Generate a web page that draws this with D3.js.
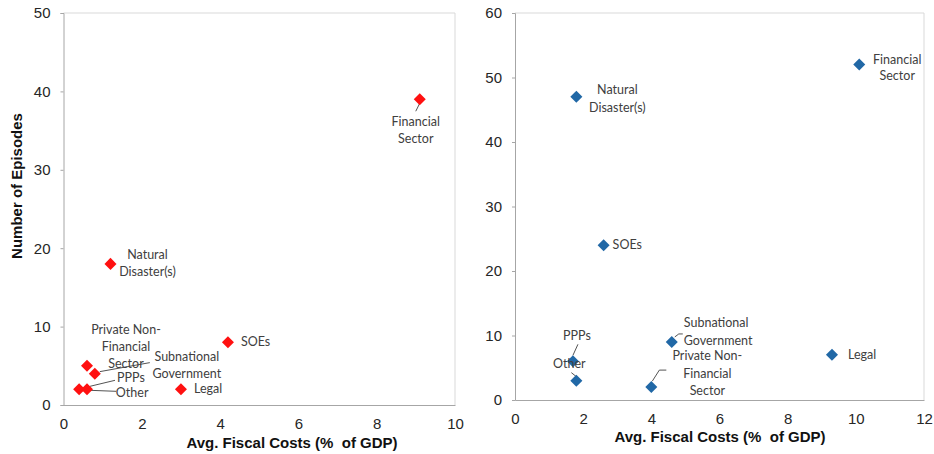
<!DOCTYPE html>
<html>
<head>
<meta charset="utf-8">
<script src="https://cdn.jsdelivr.net/npm/d3@7/dist/d3.min.js"></script>
<style>
  html, body { margin: 0; padding: 0; background: #fff; }
  svg { display: block; }
  .tick text { font-family: "Liberation Sans", Arial, sans-serif; font-size: 15px; fill: #262626; }
  .axis-title { font-family: "Liberation Sans", Arial, sans-serif; font-size: 15px; font-weight: bold; fill: #111; white-space: pre; }
  .pt-label { font-family: Lato, "Open Sans", sans-serif; font-size: 12.5px; fill: #404040; }
</style>
</head>
<body>
<svg id="chart" width="934" height="454"></svg>
<script>
// Episode categories
const categories = ["Financial Sector", "Natural Disaster(s)", "SOEs", "Private Non-Financial Sector",
                    "Subnational Government", "PPPs", "Other", "Legal"];

// Left panel: average fiscal cost (% of GDP) and number of episodes
const leftCost     = [9.1, 1.2, 4.2, 0.6, 0.8, 0.6, 0.4, 3.0];
const leftEpisodes = [39, 18, 8, 5, 4, 2, 2, 2];

// Right panel
const rightCost     = [10.1, 1.8, 2.6, 4.0, 4.6, 1.7, 1.8, 9.3];
const rightEpisodes = [52, 47, 24, 2, 9, 6, 3, 7];

// Axis ticks
const leftXTicks  = [0, 2, 4, 6, 8, 10];
const leftYTicks  = [0, 10, 20, 30, 40, 50];
const rightXTicks = [0, 2, 4, 6, 8, 10, 12];
const rightYTicks = [0, 10, 20, 30, 40, 50, 60];

// Label lines per category
const labelLines = {
  "Financial Sector": ["Financial", "Sector"],
  "Natural Disaster(s)": ["Natural", "Disaster(s)"],
  "SOEs": ["SOEs"],
  "Private Non-Financial Sector": ["Private Non-", "Financial", "Sector"],
  "Subnational Government": ["Subnational", "Government"],
  "PPPs": ["PPPs"],
  "Other": ["Other"],
  "Legal": ["Legal"]
};

// Label placement (offsets from the marker, in px) and leader lines
const leftLayout = {
  "Financial Sector":             { dx: -4, dy: 27, anchor: "middle", lh: 17, leader: [[0, 4], [-4, 12]] },
  "Natural Disaster(s)":          { dx: 37, dy: -5, anchor: "middle", lh: 17 },
  "SOEs":                         { dx: 13, dy: 4, anchor: "start", lh: 17 },
  "Private Non-Financial Sector": { dx: 39, dy: -32, anchor: "middle", lh: 17 },
  "Subnational Government":       { dx: 92, dy: -13, anchor: "middle", lh: 17, leader: [[5, -2], [55, -11]] },
  "PPPs":                         { dx: 44, dy: -7, anchor: "middle", lh: 17, leader: [[3, -3], [28, -9]] },
  "Other":                        { dx: 53, dy: 7.5, anchor: "middle", lh: 17, leader: [[11, 1], [37, 2]] },
  "Legal":                        { dx: 13, dy: 4, anchor: "start", lh: 17 }
};
const rightLayout = {
  "Financial Sector":             { dx: 38, dy: -1, anchor: "middle", lh: 16 },
  "Natural Disaster(s)":          { dx: 41, dy: -3, anchor: "middle", lh: 18 },
  "SOEs":                         { dx: 9, dy: 4, anchor: "start", lh: 17 },
  "Private Non-Financial Sector": { dx: 56, dy: -27, anchor: "middle", lh: 17.5, leader: [[1, -6], [8, -17], [15, -17]] },
  "Subnational Government":       { dx: 12, dy: -15, anchor: "start", lh: 18, leader: [[3, -5], [7, -8], [11, -8]] },
  "PPPs":                         { dx: 4, dy: -21, anchor: "middle", lh: 17, leader: [[0, -6], [5, -17]] },
  "Other":                        { dx: -7, dy: -13, anchor: "middle", lh: 17, leader: [[-5, -8], [0, -4]] },
  "Legal":                        { dx: 16, dy: 4, anchor: "start", lh: 17 }
};

const svg = d3.select("#chart");
const diamond = d3.symbol().type(d3.symbolDiamond2).size(92);

function panel(cfg) {
  const x = d3.scaleLinear().domain(cfg.xDomain).range([cfg.left, cfg.right]);
  const y = d3.scaleLinear().domain(cfg.yDomain).range([cfg.bottom, cfg.top]);
  const g = svg.append("g");

  // frame: light top and right edges
  g.append("path")
    .attr("d", `M${cfg.left},${cfg.top}H${cfg.right}V${cfg.bottom}`)
    .attr("fill", "none").attr("stroke", "#d9d9d9").attr("stroke-width", 1);

  const yAxis = g.append("g").attr("transform", `translate(${cfg.left},0)`)
    .call(d3.axisLeft(y).tickValues(cfg.yTicks).tickSize(3).tickPadding(10).tickFormat(d3.format("d")));
  const xAxis = g.append("g").attr("transform", `translate(0,${cfg.bottom})`)
    .call(d3.axisBottom(x).tickValues(cfg.xTicks).tickSize(0).tickPadding(13).tickFormat(d3.format("d")));
  [yAxis, xAxis].forEach(a => {
    a.select(".domain").attr("stroke", "#a6a6a6");
    a.selectAll(".tick line").attr("stroke", "#a6a6a6");
  });

  // axis titles
  g.append("text").attr("class", "axis-title")
    .attr("x", cfg.xTitleX).attr("y", cfg.xTitleY).attr("text-anchor", "middle")
    .text("Avg. Fiscal Costs (%  of GDP)");
  if (cfg.yTitle) {
    g.append("text").attr("class", "axis-title")
      .attr("transform", `translate(${cfg.yTitleX},${cfg.yTitleY}) rotate(-90)`)
      .attr("text-anchor", "middle").text(cfg.yTitle);
  }

  const pts = categories.map((c, i) => ({ name: c, px: x(cfg.xs[i]), py: y(cfg.ys[i]) }));

  // leader lines
  g.selectAll("path.leader").data(pts.filter(p => cfg.layout[p.name].leader)).join("path")
    .attr("class", "leader")
    .attr("d", p => d3.line()(cfg.layout[p.name].leader.map(([a, b]) => [p.px + a, p.py + b])))
    .attr("fill", "none").attr("stroke", "#404040").attr("stroke-width", 0.9);

  // markers
  g.selectAll("path.mark").data(pts).join("path")
    .attr("class", "mark")
    .attr("transform", p => `translate(${p.px},${p.py})`)
    .attr("d", diamond)
    .attr("fill", cfg.color);

  // labels
  const lab = g.selectAll("text.pt-label").data(pts).join("text")
    .attr("class", "pt-label")
    .attr("text-anchor", p => cfg.layout[p.name].anchor);
  lab.selectAll("tspan").data(p => labelLines[p.name].map((t, k) => ({ t, k, p }))).join("tspan")
    .attr("x", d => d.p.px + cfg.layout[d.p.name].dx)
    .attr("y", d => d.p.py + cfg.layout[d.p.name].dy + d.k * cfg.layout[d.p.name].lh)
    .text(d => d.t);
}

panel({
  xDomain: [0, 10], yDomain: [0, 50], left: 63.5, right: 455, top: 13, bottom: 405,
  xTicks: leftXTicks, yTicks: leftYTicks, xs: leftCost, ys: leftEpisodes,
  color: "#ff1010", layout: leftLayout,
  xTitleX: 292, xTitleY: 448, yTitle: "Number of Episodes", yTitleX: 22, yTitleY: 186
});

panel({
  xDomain: [0, 12], yDomain: [0, 60], left: 515, right: 924, top: 13, bottom: 400,
  xTicks: rightXTicks, yTicks: rightYTicks, xs: rightCost, ys: rightEpisodes,
  color: "#2168a6", layout: rightLayout,
  xTitleX: 720, xTitleY: 442
});
</script>
</body>
</html>
